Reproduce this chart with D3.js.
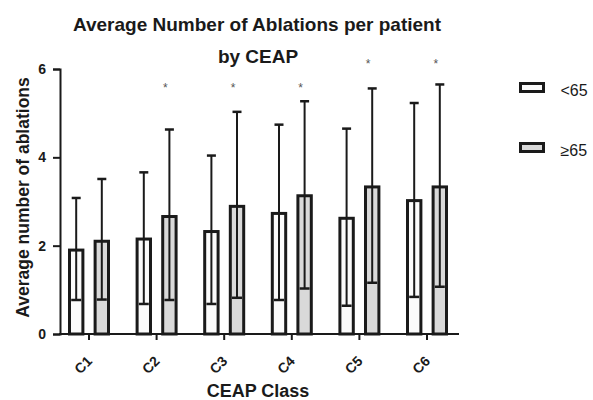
<!DOCTYPE html>
<html>
<head>
<meta charset="utf-8">
<script src="https://cdn.jsdelivr.net/npm/d3@7"></script>
<style>
  body { margin: 0; background: #fff; }
  text { font-family: 'Liberation Sans', Arial, sans-serif; fill: #1a1a1a; }
</style>
</head>
<body>
<script>
const categories = ['C1', 'C2', 'C3', 'C4', 'C5', 'C6'];
const groups = ['<65', '≥65'];
const meanUnder65 = [1.9, 2.15, 2.32, 2.73, 2.62, 3.02];
const meanOver65 = [2.1, 2.66, 2.89, 3.13, 3.33, 3.33];
const upperUnder65 = [3.08, 3.66, 4.04, 4.74, 4.65, 5.23];
const upperOver65 = [3.51, 4.63, 5.03, 5.27, 5.56, 5.65];
const lowerUnder65 = [0.77, 0.68, 0.68, 0.77, 0.64, 0.84];
const lowerOver65 = [0.78, 0.77, 0.82, 1.03, 1.16, 1.07];
// significance markers, y value per category (null = none)
const starLevels = [null, 5.64, 5.64, 5.64, 6.19, 6.19];
const yTicks = [0, 2, 4, 6];

const width = 593;
const height = 400;
const fills = { '<65': '#fbfbfb', '≥65': '#d9d9d9' };
const ink = '#1a1a1a';

const svg = d3
  .select('body')
  .append('svg')
  .attr('width', width)
  .attr('height', height);

const y = d3.scaleLinear().domain([0, 6]).range([334, 69]);

const x0 = d3.scaleBand().domain(categories).range([55.2, 460.8]);

const x1 = d3
  .scaleBand()
  .domain(groups)
  .range([0, x0.bandwidth()])
  .paddingInner(0.36)
  .paddingOuter(0.5);

const rows = [];
categories.forEach((c, i) => {
  rows.push({ cat: c, group: groups[0], mean: meanUnder65[i], hi: upperUnder65[i], lo: lowerUnder65[i] });
  rows.push({ cat: c, group: groups[1], mean: meanOver65[i], hi: upperOver65[i], lo: lowerOver65[i] });
});

const barStroke = 3;
const center = d => x0(d.cat) + x1(d.group) + x1.bandwidth() / 2;

// Bars
svg
  .selectAll('rect.bar')
  .data(rows)
  .enter()
  .append('rect')
  .attr('class', 'bar')
  .attr('x', d => x0(d.cat) + x1(d.group) + barStroke / 2)
  .attr('y', d => y(d.mean))
  .attr('width', x1.bandwidth() - barStroke)
  .attr('height', d => y(0) - y(d.mean))
  .attr('fill', d => fills[d.group])
  .attr('stroke', ink)
  .attr('stroke-width', barStroke);

// Error bars (drawn over the bars)
const err = svg.selectAll('g.err').data(rows).enter().append('g').attr('class', 'err');

err
  .append('line')
  .attr('x1', center)
  .attr('x2', center)
  .attr('y1', d => y(d.lo))
  .attr('y2', d => y(d.hi))
  .attr('stroke', ink)
  .attr('stroke-width', 2);

err
  .append('line')
  .attr('x1', d => center(d) - 4.5)
  .attr('x2', d => center(d) + 4.5)
  .attr('y1', d => y(d.hi))
  .attr('y2', d => y(d.hi))
  .attr('stroke', ink)
  .attr('stroke-width', 2.5);

err
  .append('line')
  .attr('x1', d => center(d) - 5)
  .attr('x2', d => center(d) + 5)
  .attr('y1', d => y(d.lo))
  .attr('y2', d => y(d.lo))
  .attr('stroke', ink)
  .attr('stroke-width', 2.5);

// Stars
svg
  .selectAll('text.star')
  .data(categories.filter((c, i) => starLevels[i] !== null))
  .enter()
  .append('text')
  .attr('class', 'star')
  .attr('x', c => x0(c) + x1('≥65') + x1.bandwidth() / 2 - 4)
  .attr('y', c => y(starLevels[categories.indexOf(c)]) + 7)
  .attr('text-anchor', 'middle')
  .attr('font-size', 12)
  .style('fill', '#555')
  .text('*');

// Y axis
const yAxis = svg
  .append('g')
  .attr('transform', 'translate(60,0)')
  .call(d3.axisLeft(y).tickValues(yTicks).tickSize(7).tickPadding(7).tickFormat(d3.format('d')));
yAxis.select('.domain').attr('stroke', ink).attr('stroke-width', 2);
yAxis.selectAll('.tick line').attr('stroke', ink).attr('stroke-width', 2);
yAxis.selectAll('.tick text').attr('font-size', 14).attr('font-weight', 'bold').style('fill', ink);

// X axis
const xAxis = svg
  .append('g')
  .attr('transform', `translate(0,${y(0)})`)
  .call(d3.axisBottom(x0).tickSize(6).tickSizeOuter(0));
xAxis.select('.domain').attr('d', 'M59,0H459').attr('stroke', ink).attr('stroke-width', 2);
xAxis.selectAll('.tick line').attr('stroke', ink).attr('stroke-width', 2);
xAxis
  .selectAll('.tick text')
  .attr('font-size', 14)
  .attr('font-weight', 'bold')
  .style('fill', ink)
  .attr('text-anchor', 'end')
  .attr('y', 0)
  .attr('dy', 0)
  .attr('transform', 'translate(4,28) rotate(-45)');

// Titles
svg
  .append('text')
  .attr('x', 257)
  .attr('y', 31)
  .attr('text-anchor', 'middle')
  .attr('font-size', 19)
  .attr('font-weight', 'bold')
  .text('Average Number of Ablations per patient');

svg
  .append('text')
  .attr('x', 258)
  .attr('y', 63)
  .attr('text-anchor', 'middle')
  .attr('font-size', 19)
  .attr('font-weight', 'bold')
  .text('by CEAP');

svg
  .append('text')
  .attr('transform', 'translate(28.5,197.5) rotate(-90)')
  .attr('text-anchor', 'middle')
  .attr('font-size', 17.5)
  .attr('font-weight', 'bold')
  .text('Average number of ablations');

svg
  .append('text')
  .attr('x', 258)
  .attr('y', 397)
  .attr('text-anchor', 'middle')
  .attr('font-size', 18)
  .attr('font-weight', 'bold')
  .text('CEAP Class');

// Legend
const legend = svg
  .selectAll('g.legend')
  .data(groups)
  .enter()
  .append('g')
  .attr('class', 'legend')
  .attr('transform', (d, i) => `translate(520.5,${83.5 + i * 60})`);

legend
  .append('rect')
  .attr('width', 23)
  .attr('height', 8)
  .attr('fill', d => fills[d])
  .attr('stroke', ink)
  .attr('stroke-width', 3);

legend
  .append('text')
  .attr('x', 40)
  .attr('y', 12.5)
  .attr('font-size', 16)
  .text(d => d);
</script>
</body>
</html>
